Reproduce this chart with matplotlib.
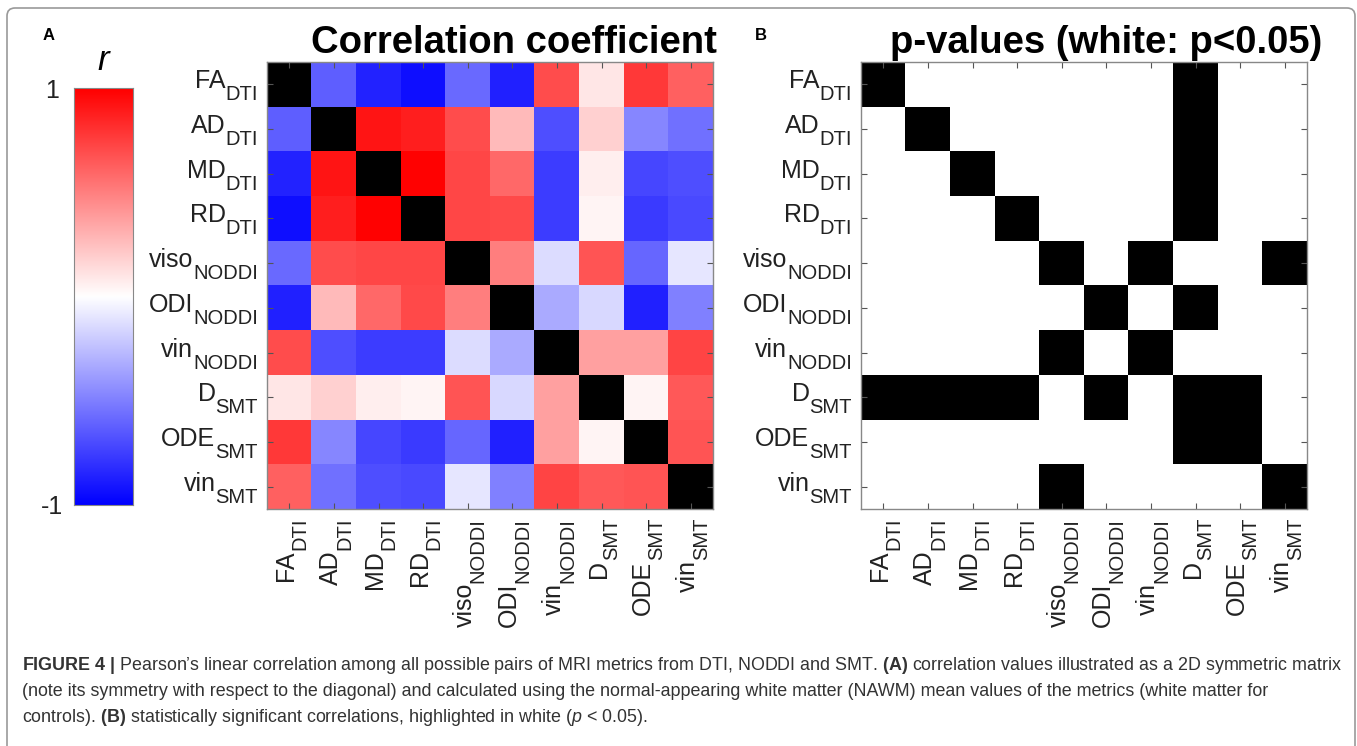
import matplotlib
matplotlib.use('Agg')
import matplotlib.pyplot as plt
import numpy as np
from matplotlib.patches import FancyBboxPatch
from matplotlib.transforms import IdentityTransform, Affine2D, blended_transform_factory

plt.rcParams['font.family'] = ['Liberation Sans', 'DejaVu Sans']
plt.rcParams['mathtext.fontset'] = 'custom'
plt.rcParams['mathtext.rm'] = 'Liberation Sans'
plt.rcParams['mathtext.it'] = 'Liberation Sans:italic'
plt.rcParams['mathtext.bf'] = 'Liberation Sans:bold'

# metric names and the model each comes from
metrics = ['FA', 'AD', 'MD', 'RD', 'viso', 'ODI', 'vin', 'D', 'ODE', 'vin']
models = ['DTI', 'DTI', 'DTI', 'DTI', 'NODDI', 'NODDI', 'NODDI', 'SMT', 'SMT', 'SMT']

# Pearson r, lower triangle (row i holds r with metrics 0..i-1)
r_lower = [
    [-0.63],
    [-0.86, 0.92],
    [-0.94, 0.88, 0.99],
    [-0.58, 0.70, 0.72, 0.72],
    [-0.87, 0.27, 0.59, 0.71, 0.50],
    [0.70, -0.69, -0.76, -0.76, -0.14, -0.33],
    [0.10, 0.18, 0.07, 0.04, 0.67, -0.15, 0.37],
    [0.78, -0.47, -0.72, -0.77, -0.60, -0.87, 0.37, 0.04],
    [0.62, -0.56, -0.69, -0.71, -0.10, -0.50, 0.73, 0.65, 0.67],
]

# 1 = p < 0.05 (white), 0 = not significant (black)
significant = [
    [0, 1, 1, 1, 1, 1, 1, 0, 1, 1],
    [1, 0, 1, 1, 1, 1, 1, 0, 1, 1],
    [1, 1, 0, 1, 1, 1, 1, 0, 1, 1],
    [1, 1, 1, 0, 1, 1, 1, 0, 1, 1],
    [1, 1, 1, 1, 0, 1, 0, 1, 1, 0],
    [1, 1, 1, 1, 1, 0, 1, 0, 1, 1],
    [1, 1, 1, 1, 0, 1, 0, 1, 1, 1],
    [0, 0, 0, 0, 1, 0, 1, 0, 0, 1],
    [1, 1, 1, 1, 1, 1, 1, 0, 0, 1],
    [1, 1, 1, 1, 0, 1, 1, 1, 1, 0],
]

caption = [
    r"$\mathbf{FIGURE\ 4\ |}$ Pearson’s linear correlation among all possible pairs of MRI metrics from DTI, NODDI and SMT. "
    r"$\mathbf{(A)}$ correlation values illustrated as a 2D symmetric matrix",
    "(note its symmetry with respect to the diagonal) and calculated using the normal-appearing white matter (NAWM) "
    "mean values of the metrics (white matter for",
    r"controls). $\mathbf{(B)}$ statistically significant correlations, highlighted in white ($\mathit{p}$ < 0.05).",
]

n = len(metrics)
r = np.full((n, n), np.nan)
for i, row in enumerate(r_lower, start=1):
    for j, v in enumerate(row):
        r[i, j] = v
        r[j, i] = v

W, H = 1357, 746
fig = plt.figure(figsize=(W / 100, H / 100), dpi=100)
renderer = fig.canvas.get_renderer()

main_fs, sub_fs = 18, 14.5
label_color = '#222222'


def px_axes(x0, y0, x1, y1):
    return fig.add_axes([x0 / W, 1 - y1 / H, (x1 - x0) / W, (y1 - y0) / H])


def text_width(s, fs):
    t = fig.text(0, 0, s, fontsize=fs)
    w = t.get_window_extent(renderer).width
    t.remove()
    return w


def style_matrix(ax):
    ax.set_xticks(range(n))
    ax.set_yticks(range(n))
    ax.set_xticklabels([])
    ax.set_yticklabels([])
    ax.tick_params(direction='in', top=True, right=True, length=4, width=0.8,
                   color='#555555')
    for s in ax.spines.values():
        s.set_color('#888888')
        s.set_linewidth(1)
    # labels with large, dropped subscripts (MATLAB look)
    ytr = blended_transform_factory(ax.transAxes, ax.transData)
    xtr = blended_transform_factory(ax.transData, ax.transAxes)
    for i, (m, s) in enumerate(zip(metrics, models)):
        sw = text_width(s, sub_fs)
        ax.text(0, i, s, fontsize=sub_fs, ha='right', va='baseline', color=label_color,
                transform=ytr + Affine2D().translate(-9, -16))
        ax.text(0, i, m, fontsize=main_fs, ha='right', va='baseline', color=label_color,
                transform=ytr + Affine2D().translate(-9 - sw, -4))
        ax.text(i, 0, s, fontsize=sub_fs, ha='right', va='baseline', color=label_color,
                rotation=90, rotation_mode='anchor',
                transform=xtr + Affine2D().translate(16, -9))
        ax.text(i, 0, m, fontsize=main_fs, ha='right', va='baseline', color=label_color,
                rotation=90, rotation_mode='anchor',
                transform=xtr + Affine2D().translate(4, -9 - sw))


# panel A
axA = px_axes(267, 62, 713, 509)
cmap = plt.get_cmap('bwr').copy()
cmap.set_bad('black')
axA.imshow(np.ma.masked_invalid(r), cmap=cmap, vmin=-1, vmax=1,
           aspect='auto', interpolation='nearest')
style_matrix(axA)

# panel B
axB = px_axes(861, 62, 1307, 509)
axB.imshow(np.array(significant), cmap='gray', vmin=0, vmax=1,
           aspect='auto', interpolation='nearest')
style_matrix(axB)

# colour bar
cax = px_axes(74, 88, 133, 505)
grad = np.linspace(1, -1, 256).reshape(-1, 1)
cax.imshow(grad, cmap='bwr', vmin=-1, vmax=1, aspect='auto', extent=[0, 1, -1, 1])
cax.set_xticks([])
cax.set_yticks([-1, 1])
cax.set_yticklabels(['-1', '1'])
cax.tick_params(length=0, labelsize=main_fs, pad=16, labelcolor=label_color)
for lbl in cax.get_yticklabels():
    lbl.set_ha('center')
for s in cax.spines.values():
    s.set_color('#888888')
    s.set_linewidth(0.8)

fig.text(103 / W, 1 - 60 / H, 'r', style='italic', fontsize=25, ha='center', va='center')

# titles and panel letters
fig.text(514 / W, 1 - 53 / H, 'Correlation coefficient', weight='bold', fontsize=27.5,
         ha='center', va='baseline')
fig.text(1106 / W, 1 - 53 / H, 'p-values (white: p<0.05)', weight='bold', fontsize=27.5,
         ha='center', va='baseline')
fig.text(43 / W, 1 - 40 / H, 'A', weight='bold', fontsize=12, va='baseline')
fig.text(755 / W, 1 - 40 / H, 'B', weight='bold', fontsize=12, va='baseline')

# caption
for k, line in enumerate(caption):
    fig.text(22 / W, 1 - (670 + 26 * k) / H, line, fontsize=12.9, color='#333333', va='baseline')

# frame
frame = FancyBboxPatch((7, -20), 1348, H - 8 + 20, boxstyle='round,pad=0,rounding_size=8',
                       transform=IdentityTransform(), fill=False, ec='#999999', lw=1.2)
fig.add_artist(frame)

fig.savefig('out.png', dpi=100)
